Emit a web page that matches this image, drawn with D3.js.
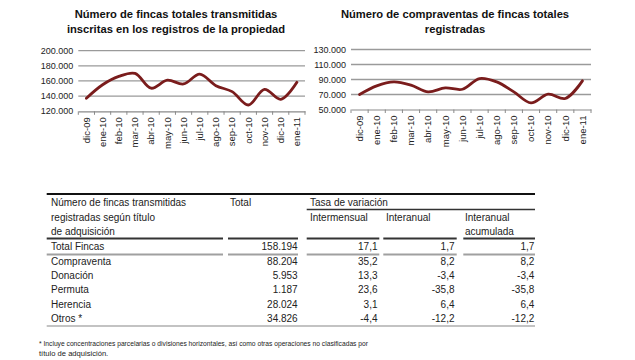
<!DOCTYPE html>
<html><head><meta charset="utf-8">
<script src="https://cdn.jsdelivr.net/npm/d3@7"></script>
<style>
html,body{margin:0;padding:0;background:#fff;}
svg{display:block;font-family:"Liberation Sans",Arial,sans-serif;}
</style></head>
<body><svg id="c" width="635" height="360"></svg>
<script>
const months = ["dic-09","ene-10","feb-10","mar-10","abr-10","may-10","jun-10","jul-10","ago-10","sep-10","oct-10","nov-10","dic-10","ene-11"];
const fincasTotales = [137200,155000,166000,170000,150400,161000,156000,169000,153800,145900,128300,149000,135800,158194];
const compraventas = [70000,81500,86800,82400,73500,78800,77000,91300,86800,73500,58800,70400,64700,88204];
const leftTicks = [120000,140000,160000,180000,200000];
const rightTicks = [50000,70000,90000,110000,130000];

const rowLabels = ["Total Fincas","Compraventa","Donación","Permuta","Herencia","Otros *"];
const totals = ["158.194","88.204","5.953","1.187","28.024","34.826"];
const intermensual = ["17,1","35,2","13,3","23,6","3,1","-4,4"];
const interanual = ["1,7","8,2","-3,4","-35,8","6,4","-12,2"];
const acumulada = ["1,7","8,2","-3,4","-35,8","6,4","-12,2"];

const svg = d3.select("#c");
const fmt = d3.format(",.0f");
const fmtEs = v => fmt(v).replace(/,/g, ".");

function chart(opts){
  const g = svg.append("g");
  const x = d3.scaleBand().domain(months).range(opts.xr).padding(0);
  const y = d3.scaleLinear().domain(opts.dom).range(opts.yr);
  // gridlines
  g.append("g").selectAll("line").data(opts.ticks.slice(1)).join("line")
    .attr("x1", opts.xr[0]).attr("x2", opts.xr[1])
    .attr("y1", d=>y(d)).attr("y2", d=>y(d))
    .attr("stroke", "#9a9a9a").attr("stroke-width", 1.3);
  // y labels
  g.append("g").selectAll("text").data(opts.ticks).join("text")
    .attr("x", opts.xr[0]-5).attr("y", d=>y(d)).attr("dy","0.35em")
    .attr("text-anchor","end").attr("font-size", 9).attr("fill","#222")
    .text(d=>fmtEs(d));
  // x axis
  const ax = g.append("g").attr("transform", `translate(0,${opts.yr[0]})`)
    .call(d3.axisBottom(x).tickSize(0).tickFormat(""));
  ax.select(".domain").attr("stroke","#8a8a8a").attr("stroke-width",1.2);
  const edges = months.map(m=>x(m)).concat([opts.xr[1]]);
  g.append("g").selectAll("line").data(edges).join("line")
    .attr("x1", d=>d).attr("x2", d=>d)
    .attr("y1", opts.yr[0]).attr("y2", opts.yr[0]+3.5)
    .attr("stroke","#8a8a8a").attr("stroke-width",1);
  g.append("g").selectAll("text").data(months).join("text")
    .attr("transform", d=>`translate(${x(d)+x.bandwidth()/2+3.3},${opts.yr[0]+6}) rotate(-90)`)
    .attr("text-anchor","end").attr("font-size", 9.5).attr("fill","#222")
    .text(d=>d);
  // line
  const line = d3.line().x((d,i)=>x(months[i])+x.bandwidth()/2).y(d=>y(d)).curve(d3.curveCatmullRom.alpha(0.5));
  g.append("path").datum(opts.values).attr("d", line)
    .attr("fill","none").attr("stroke","#7a1c1c").attr("stroke-width",2.8)
    .attr("stroke-linejoin","round").attr("stroke-linecap","round");
  // title
  const t = g.append("text").attr("text-anchor","middle").attr("font-size", 11.2)
    .attr("font-weight","bold").attr("fill","#111");
  opts.title.forEach((s,i)=>t.append("tspan").attr("x", opts.tx).attr("y", 18+i*15).text(s));
}

chart({xr:[78.3,305], yr:[111.3,50.6], dom:[120000,200000], ticks:leftTicks, values:fincasTotales,
  title:["Número de fincas totales transmitidas","inscritas en los registros de la propiedad"], tx:176});
chart({xr:[351,591], yr:[109.5,49.5], dom:[50000,130000], ticks:rightTicks, values:compraventas,
  title:["Número de compraventas de fincas totales","registradas"], tx:455});

// table
const T = svg.append("g").attr("font-size", 10).attr("fill","#222");
const cols = [
  {x0:46.7, x1:223},
  {x0:228, x1:298},
  {x0:306.7, x1:379.3},
  {x0:383.3, x1:456.7},
  {x0:463.3, x1:535}
];
function hline(x0,x1,y,c,w){ T.append("line").attr("x1",x0).attr("x2",x1).attr("y1",y).attr("y2",y).attr("stroke",c).attr("stroke-width",w); }
function txt(x,y,s,anchor){ T.append("text").attr("x",x).attr("y",y).attr("text-anchor",anchor||"start").attr("fill","#222").text(s); }
hline(46.7,535,194,"#111",2.2);
hline(306.7,535,209.5,"#333",1.6);
cols.forEach(c=>hline(c.x0,c.x1,238.5,"#333",2));
cols.forEach(c=>hline(c.x0,c.x1,254.5,"#a0a0a0",2));
hline(46.7,535,326,"#888",1.2);
txt(51,205.5,"Número de fincas transmitidas");
txt(51,221,"registradas según título");
txt(51,235,"de adquisición");
txt(230,205.5,"Total");
txt(310,205.5,"Tasa de variación");
txt(310,221,"Intermensual");
txt(386,221,"Interanual");
txt(465,221,"Interanual");
txt(465,235,"acumulada");
const rowY = [250.3, 264.6, 279, 293.3, 307.6, 321.6];
rowLabels.forEach((r,i)=>{
  txt(51,rowY[i],r);
  txt(297.7,rowY[i],totals[i],"end");
  txt(377.5,rowY[i],intermensual[i],"end");
  txt(454.5,rowY[i],interanual[i],"end");
  txt(534.3,rowY[i],acumulada[i],"end");
});
// footnote
const F = svg.append("g").attr("font-size", 7.6).attr("fill","#222");
F.append("text").attr("x",39).attr("y",345.5).attr("textLength",329).attr("lengthAdjust","spacingAndGlyphs")
  .text("* Incluye concentraciones parcelarias o divisiones horizontales, así como otras operaciones no clasificadas por");
F.append("text").attr("x",39).attr("y",355.5).text("título de adquisición.");
</script></body></html>
